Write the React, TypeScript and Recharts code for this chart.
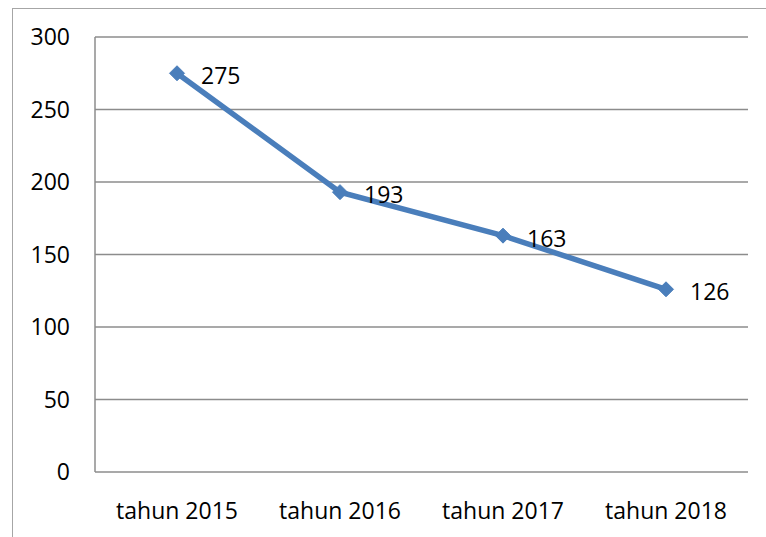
import React from "react";
import { LineChart, Line, XAxis, YAxis, CartesianGrid, LabelList } from "recharts";

const categories = ["tahun 2015", "tahun 2016", "tahun 2017", "tahun 2018"];
const values = [275, 193, 163, 126];
const yTicks = [0, 50, 100, 150, 200, 250, 300];

const data = categories.map((c, i) => ({ name: c, value: values[i] }));

const FONT = "'Open Sans', sans-serif";
const BLUE = "#4A7EBB";

const Diamond = (props: any) => {
  const { cx, cy } = props;
  if (cx == null || cy == null) return null;
  const r = 7.5;
  return (
    <polygon
      points={`${cx},${cy - r} ${cx + r},${cy} ${cx},${cy + r} ${cx - r},${cy}`}
      fill={BLUE}
      stroke={BLUE}
      strokeWidth={1}
    />
  );
};

const RightLabel = (props: any) => {
  const { x, y, value } = props;
  return (
    <text
      x={x + 24}
      y={y + 2}
      dominantBaseline="central"
      textAnchor="start"
      fontFamily={FONT}
      fontSize={23}
      fill="#000"
    >
      {value}
    </text>
  );
};

export default function App() {
  return (
    <div style={{ position: "absolute", left: 0, top: 0, width: 766, height: 537, overflow: "hidden", background: "#fff" }}>
      <div
        style={{
          position: "absolute",
          left: 12,
          top: 8,
          width: 800,
          height: 600,
          border: "1.5px solid #a6a6a6",
          boxSizing: "border-box",
        }}
      />
      <div style={{ position: "absolute", left: 0, top: 0 }}>
        <LineChart
          width={766}
          height={537}
          data={data}
          margin={{ top: 37, right: 18, bottom: 0, left: 0 }}
        >
          <CartesianGrid vertical={false} stroke="#8c8c8c" strokeWidth={1.5} />
          <XAxis
            dataKey="name"
            axisLine={false}
            tickLine={false}
            tickSize={0}
            tickMargin={31}
            height={65}
            padding={{ left: 82, right: 82 }}
            tick={{ fontFamily: FONT, fontSize: 23, fill: "#000" }}
            interval={0}
          />
          <YAxis
            domain={[0, 300]}
            ticks={yTicks}
            width={95}
            axisLine={{ stroke: "#8c8c8c", strokeWidth: 1.5 }}
            tickLine={false}
            tickSize={0}
            tickMargin={25}
            tick={{ fontFamily: FONT, fontSize: 23, fill: "#000" }}
          />
          <Line
            type="linear"
            dataKey="value"
            stroke={BLUE}
            strokeWidth={5.5}
            dot={<Diamond />}
            activeDot={false}
            isAnimationActive={false}
          >
            <LabelList dataKey="value" content={<RightLabel />} />
          </Line>
        </LineChart>
      </div>
    </div>
  );
}
